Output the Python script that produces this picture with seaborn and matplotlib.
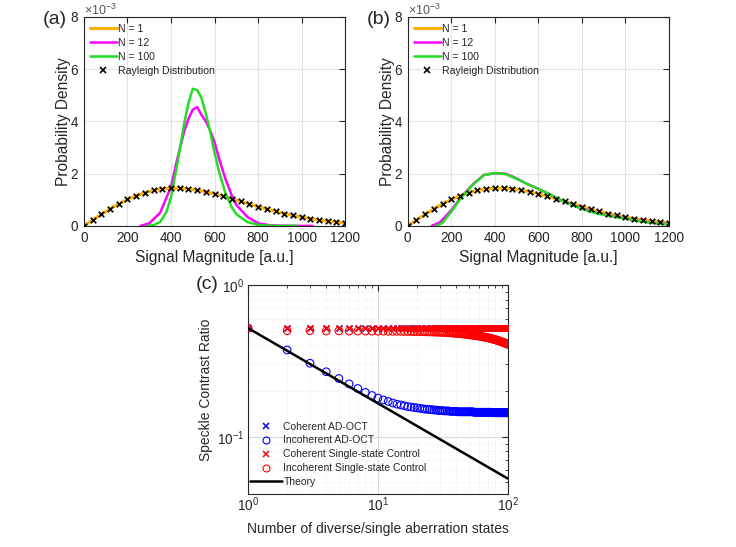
import numpy as np
import pandas as pd
import matplotlib
matplotlib.use("Agg")
from matplotlib import pyplot as plt
from matplotlib.lines import Line2D
import seaborn as sns

# ---- panel (a)/(b) data, probability density in units of 1e-3 ----
signal_x = [0, 40, 80, 120, 160, 200, 240, 280, 320, 360, 400, 440, 480, 520, 560, 600,
            640, 680, 720, 760, 800, 840, 880, 920, 960, 1000, 1040, 1080, 1120, 1160, 1200]
rayleigh_pdf = [0.0, 0.226, 0.445, 0.653, 0.843, 1.012, 1.156, 1.271, 1.357, 1.414, 1.441,
                1.441, 1.416, 1.370, 1.306, 1.226, 1.136, 1.039, 0.939, 0.839, 0.739, 0.644,
                0.556, 0.473, 0.399, 0.333, 0.275, 0.225, 0.181, 0.145, 0.115]

a_n12_x = [260, 300, 350, 400, 430, 460, 480, 500, 520, 540, 560, 580, 600, 620, 650, 680,
           700, 750, 800, 850, 900, 1000, 1050]
a_n12_y = [0.0, 0.1, 0.5, 1.5, 2.6, 3.6, 4.1, 4.45, 4.55, 4.25, 4.0, 3.65, 3.2, 2.6, 1.8,
           1.15, 0.8, 0.35, 0.1, 0.03, 0.01, 0.0, 0.0]
a_n100_x = [290, 320, 350, 380, 400, 430, 460, 480, 500, 520, 540, 560, 580, 600, 620, 650,
            680, 700, 750, 800, 850, 900, 980]
a_n100_y = [0.0, 0.03, 0.15, 0.55, 1.1, 2.4, 3.9, 4.7, 5.25, 5.2, 4.9, 4.3, 3.6, 2.8, 2.1,
            1.25, 0.7, 0.45, 0.15, 0.04, 0.01, 0.0, 0.0]

b_n12_x = [110, 150, 200, 250, 300, 350, 400, 450, 500, 550, 600, 650, 700, 750, 800, 850,
           900, 950, 1000, 1050, 1100, 1150, 1200]
b_n12_y = [0.0, 0.15, 0.6, 1.15, 1.6, 1.95, 2.02, 2.0, 1.82, 1.6, 1.42, 1.22, 1.0, 0.83,
           0.67, 0.54, 0.44, 0.36, 0.29, 0.21, 0.15, 0.1, 0.07]
b_n100_x = [130, 160, 200, 250, 300, 350, 400, 450, 500, 550, 600, 650, 700, 750, 800, 850,
            900, 950, 1000, 1050, 1100, 1150, 1200]
b_n100_y = [0.0, 0.12, 0.55, 1.12, 1.58, 1.95, 2.02, 1.98, 1.8, 1.6, 1.42, 1.22, 1.0, 0.82,
            0.65, 0.52, 0.42, 0.35, 0.28, 0.2, 0.14, 0.09, 0.06]

# ---- panel (c) data ----
n_states = list(range(1, 101))
coherent_ad = [0.52] * 100
coherent_ctrl = [0.522] * 100
incoherent_ad = [0.52, 0.373, 0.305, 0.268, 0.242, 0.223, 0.208, 0.196, 0.187, 0.180,
                 0.175, 0.171, 0.167, 0.164, 0.162, 0.160, 0.158, 0.157, 0.156, 0.155,
                 0.154, 0.153, 0.152, 0.152, 0.151, 0.151, 0.150, 0.150, 0.149, 0.149,
                 0.149, 0.148, 0.148, 0.148, 0.148, 0.147, 0.147, 0.147, 0.147, 0.147,
                 0.146, 0.146, 0.146, 0.146, 0.146, 0.146, 0.146, 0.146, 0.146, 0.146,
                 0.146, 0.146, 0.146, 0.146, 0.145, 0.145, 0.145, 0.145, 0.145, 0.145,
                 0.145, 0.145, 0.145, 0.145, 0.145, 0.145, 0.145, 0.145, 0.145, 0.145,
                 0.145, 0.145, 0.145, 0.145, 0.145, 0.144, 0.144, 0.144, 0.144, 0.144,
                 0.144, 0.144, 0.144, 0.144, 0.144, 0.144, 0.144, 0.144, 0.144, 0.144,
                 0.144, 0.144, 0.144, 0.144, 0.144, 0.144, 0.144, 0.144, 0.144, 0.144]
incoherent_ctrl = [0.52, 0.500, 0.500, 0.498, 0.498, 0.497, 0.497, 0.497, 0.496, 0.496,
                   0.496, 0.495, 0.495, 0.495, 0.495, 0.494, 0.494, 0.494, 0.493, 0.493,
                   0.493, 0.492, 0.492, 0.491, 0.491, 0.490, 0.490, 0.489, 0.489, 0.488,
                   0.487, 0.487, 0.486, 0.485, 0.485, 0.484, 0.483, 0.482, 0.481, 0.481,
                   0.480, 0.479, 0.478, 0.477, 0.476, 0.475, 0.474, 0.473, 0.472, 0.471,
                   0.470, 0.469, 0.468, 0.467, 0.466, 0.465, 0.464, 0.463, 0.462, 0.461,
                   0.460, 0.459, 0.458, 0.456, 0.455, 0.454, 0.453, 0.452, 0.450, 0.449,
                   0.448, 0.447, 0.445, 0.444, 0.443, 0.441, 0.440, 0.439, 0.437, 0.436,
                   0.435, 0.433, 0.432, 0.430, 0.429, 0.428, 0.426, 0.425, 0.423, 0.422,
                   0.420, 0.419, 0.417, 0.416, 0.414, 0.413, 0.411, 0.410, 0.408, 0.407]
theory_x = [1, 100]
theory_y = [0.52, 0.053]

orange = '#FFB000'
magenta = '#FF00FF'
green = '#22DD22'
tick_col = '#262626'

sns.set_style("white")
plt.rcParams['font.family'] = ['Liberation Sans', 'DejaVu Sans']
plt.rcParams['mathtext.fontset'] = 'custom'
plt.rcParams['mathtext.rm'] = 'Liberation Sans'

fig = plt.figure(figsize=(7.36, 5.47), dpi=100)
ax_a = fig.add_axes([0.114, 0.587, 0.355, 0.382])
ax_b = fig.add_axes([0.554, 0.587, 0.355, 0.382])
ax_c = fig.add_axes([0.337, 0.097, 0.353, 0.382])


def style_box(ax):
    for s in ax.spines.values():
        s.set_visible(True)
        s.set_color(tick_col)
        s.set_linewidth(0.8)
    ax.tick_params(direction='in', colors=tick_col, labelsize=9.8, length=4,
                   top=True, right=True, pad=4)


def density_panel(ax, n12x, n12y, n100x, n100y, tag):
    sns.lineplot(x=signal_x, y=rayleigh_pdf, ax=ax, color=orange, linewidth=2.2)
    sns.lineplot(x=n12x, y=n12y, ax=ax, color=magenta, linewidth=1.8)
    sns.lineplot(x=n100x, y=n100y, ax=ax, color=green, linewidth=1.8)
    sns.scatterplot(x=signal_x, y=rayleigh_pdf, ax=ax, marker='x', color='black',
                    s=16, linewidth=1.2, zorder=5)
    ax.set_xlim(0, 1200)
    ax.set_ylim(0, 8)
    ax.set_xticks(range(0, 1201, 200))
    ax.set_yticks([0, 2, 4, 6, 8])
    ax.grid(True, color='#E3E3E3', linewidth=0.8)
    style_box(ax)
    ax.set_xlabel('Signal Magnitude [a.u.]', fontsize=11.2, color=tick_col, labelpad=3)
    ax.set_ylabel('Probability Density', fontsize=11.2, color=tick_col, labelpad=-0.5)
    ax.text(0.0, 1.01, r'$\times 10^{-3}$', transform=ax.transAxes, fontsize=9,
            color='#555555', ha='left', va='baseline')
    ax.text(-0.157, 0.99, tag, transform=ax.transAxes, fontsize=14, ha='left', va='center')
    handles = [Line2D([], [], color=orange, lw=2.2),
               Line2D([], [], color=magenta, lw=1.8),
               Line2D([], [], color=green, lw=1.8),
               Line2D([], [], color='black', marker='x', ls='none', ms=4, mew=1.2)]
    ax.legend(handles, ['N = 1', 'N = 12', 'N = 100', 'Rayleigh Distribution'],
              loc='upper left', bbox_to_anchor=(0.023, 0.968), frameon=False, fontsize=7.6,
              handlelength=2.55, handletextpad=0.1, labelspacing=0.39, borderaxespad=0,
              borderpad=0)


density_panel(ax_a, a_n12_x, a_n12_y, a_n100_x, a_n100_y, '(a)')
density_panel(ax_b, b_n12_x, b_n12_y, b_n100_x, b_n100_y, '(b)')

# ---- panel (c) ----
ax = ax_c
sns.scatterplot(x=n_states, y=coherent_ad, ax=ax, marker='x', color='blue', s=18,
                linewidth=1.1, zorder=3)
sns.scatterplot(x=n_states, y=incoherent_ad, ax=ax, marker='o', fc='none', ec='blue',
                s=30, linewidth=0.8, zorder=3)
sns.scatterplot(x=n_states, y=coherent_ctrl, ax=ax, marker='x', color='red', s=18,
                linewidth=1.1, zorder=4)
sns.scatterplot(x=n_states, y=incoherent_ctrl, ax=ax, marker='o', fc='none', ec='red',
                s=30, linewidth=0.8, zorder=4)
sns.lineplot(x=theory_x, y=theory_y, ax=ax, color='black', linewidth=1.8, zorder=5)
ax.set_xscale('log')
ax.set_yscale('log')
ax.set_xlim(1, 100)
ax.set_ylim(0.042, 1.0)
ax.grid(True, which='major', color='#DADADA', linewidth=0.8)
ax.grid(True, which='minor', color='#E6E6E6', linewidth=0.6, linestyle=(0, (1, 1.5)))
style_box(ax)
ax.tick_params(which='minor', direction='in', length=2, top=True, right=True, colors=tick_col)
ax.tick_params(axis='x', which='major', pad=1)
ax.tick_params(axis='y', which='major', pad=2.5)
ax.set_xlabel('Number of diverse/single aberration states', fontsize=10, color=tick_col,
              labelpad=6)
ax.set_ylabel('Speckle Contrast Ratio', fontsize=10, color=tick_col, labelpad=3)
ax.text(-0.2, 1.0, '(c)', transform=ax.transAxes, fontsize=14, ha='left', va='center')
handles = [Line2D([], [], color='blue', marker='x', ls='none', ms=4, mew=1.1),
           Line2D([], [], color='blue', marker='o', mfc='none', ls='none', ms=5, mew=0.8),
           Line2D([], [], color='red', marker='x', ls='none', ms=4, mew=1.1),
           Line2D([], [], color='red', marker='o', mfc='none', ls='none', ms=5, mew=0.8),
           Line2D([], [], color='black', lw=1.8)]
ax.legend(handles, ['Coherent AD-OCT', 'Incoherent AD-OCT', 'Coherent Single-state Control',
                    'Incoherent Single-state Control', 'Theory'],
          loc='lower left', bbox_to_anchor=(0.008, 0.033), frameon=False, fontsize=7.5,
          handlelength=3.1, handletextpad=0.1, labelspacing=0.37, borderaxespad=0,
          borderpad=0)

fig.savefig('out.png', dpi=100, facecolor='white')
